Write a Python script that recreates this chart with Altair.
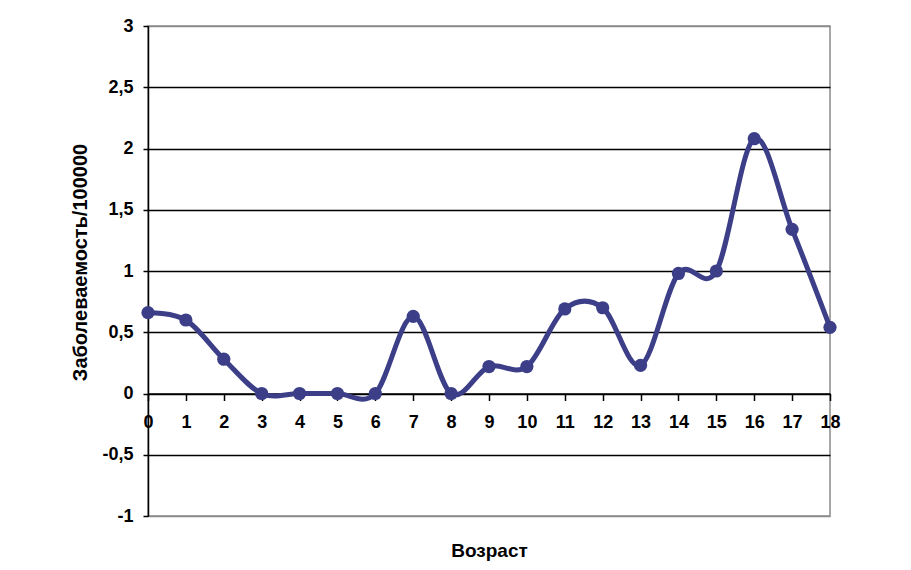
import altair as alt
import pandas as pd

ages = list(range(0, 19))
incidence = [0.66, 0.60, 0.28, 0.0, 0.0, 0.0, 0.0, 0.63, 0.0, 0.22, 0.22,
             0.69, 0.70, 0.23, 0.98, 1.0, 2.08, 1.34, 0.54]
y_ticks = [-1, -0.5, 0, 0.5, 1, 1.5, 2, 2.5, 3]

df = pd.DataFrame({"age": ages, "val": incidence})

FONT = "Liberation Sans"
COLOR = "#3c3f88"

x_enc = alt.X(
    "age:Q",
    scale=alt.Scale(domain=[0, 18], nice=False, zero=False),
    axis=alt.Axis(
        title="Возраст",
        values=ages,
        tickCount=19,
        format="d",
        offset=-122.5,
        grid=False,
        labelOverlap=False,
        labelFlush=False,
        domainColor="black",
        domainWidth=1.5,
        tickColor="black",
        tickSize=7,
        tickWidth=1.5,
        labelPadding=13,
        labelFont=FONT,
        labelFontSize=18,
        labelFontWeight="bold",
        labelColor="black",
        titleFont=FONT,
        titleFontSize=19,
        titleFontWeight="bold",
        titleColor="black",
        titleX=341,
        titleY=157,
        titleBaseline="middle",
        titleAlign="center",
    ),
)

y_enc = alt.Y(
    "val:Q",
    scale=alt.Scale(domain=[-1, 3], nice=False, zero=False),
    axis=alt.Axis(
        title="Заболеваемость/100000",
        values=y_ticks,
        labelExpr="replace(toString(datum.value), '.', ',')",
        labelOverlap=False,
        labelFlush=False,
        grid=True,
        gridColor={"condition": {"test": "datum.value === 3 || datum.value === -1", "value": "#8a8a8a"}, "value": "black"},
        gridWidth=1.5,
        domainColor="black",
        domainWidth=1.5,
        tickColor="black",
        tickSize=5,
        tickWidth=1.5,
        labelPadding=10,
        labelFont=FONT,
        labelFontSize=18,
        labelFontWeight="bold",
        labelColor="black",
        titleFont=FONT,
        titleFontSize=20,
        titleFontWeight="bold",
        titleColor="black",
        titleX=-68,
        titleY=236,
        titleAngle=-90,
        titleAlign="center",
        titleBaseline="middle",
    ),
)

base = alt.Chart(df).encode(x=x_enc, y=y_enc)
line = base.mark_line(interpolate="cardinal", tension=0, color=COLOR, strokeWidth=5)
pts = base.mark_circle(size=175, color=COLOR, opacity=1)

chart = (
    alt.layer(line, pts)
    .properties(
        width=682,
        height=490,
        autosize=alt.AutoSizeParams(type="none"),
        padding={"left": 140, "top": 18, "right": 60, "bottom": 46},
        background="white",
    )
    .configure_view(stroke="#8a8a8a", strokeWidth=1.5)
)

chart.save("out.html", embed_options={"renderer": "svg", "actions": False})
